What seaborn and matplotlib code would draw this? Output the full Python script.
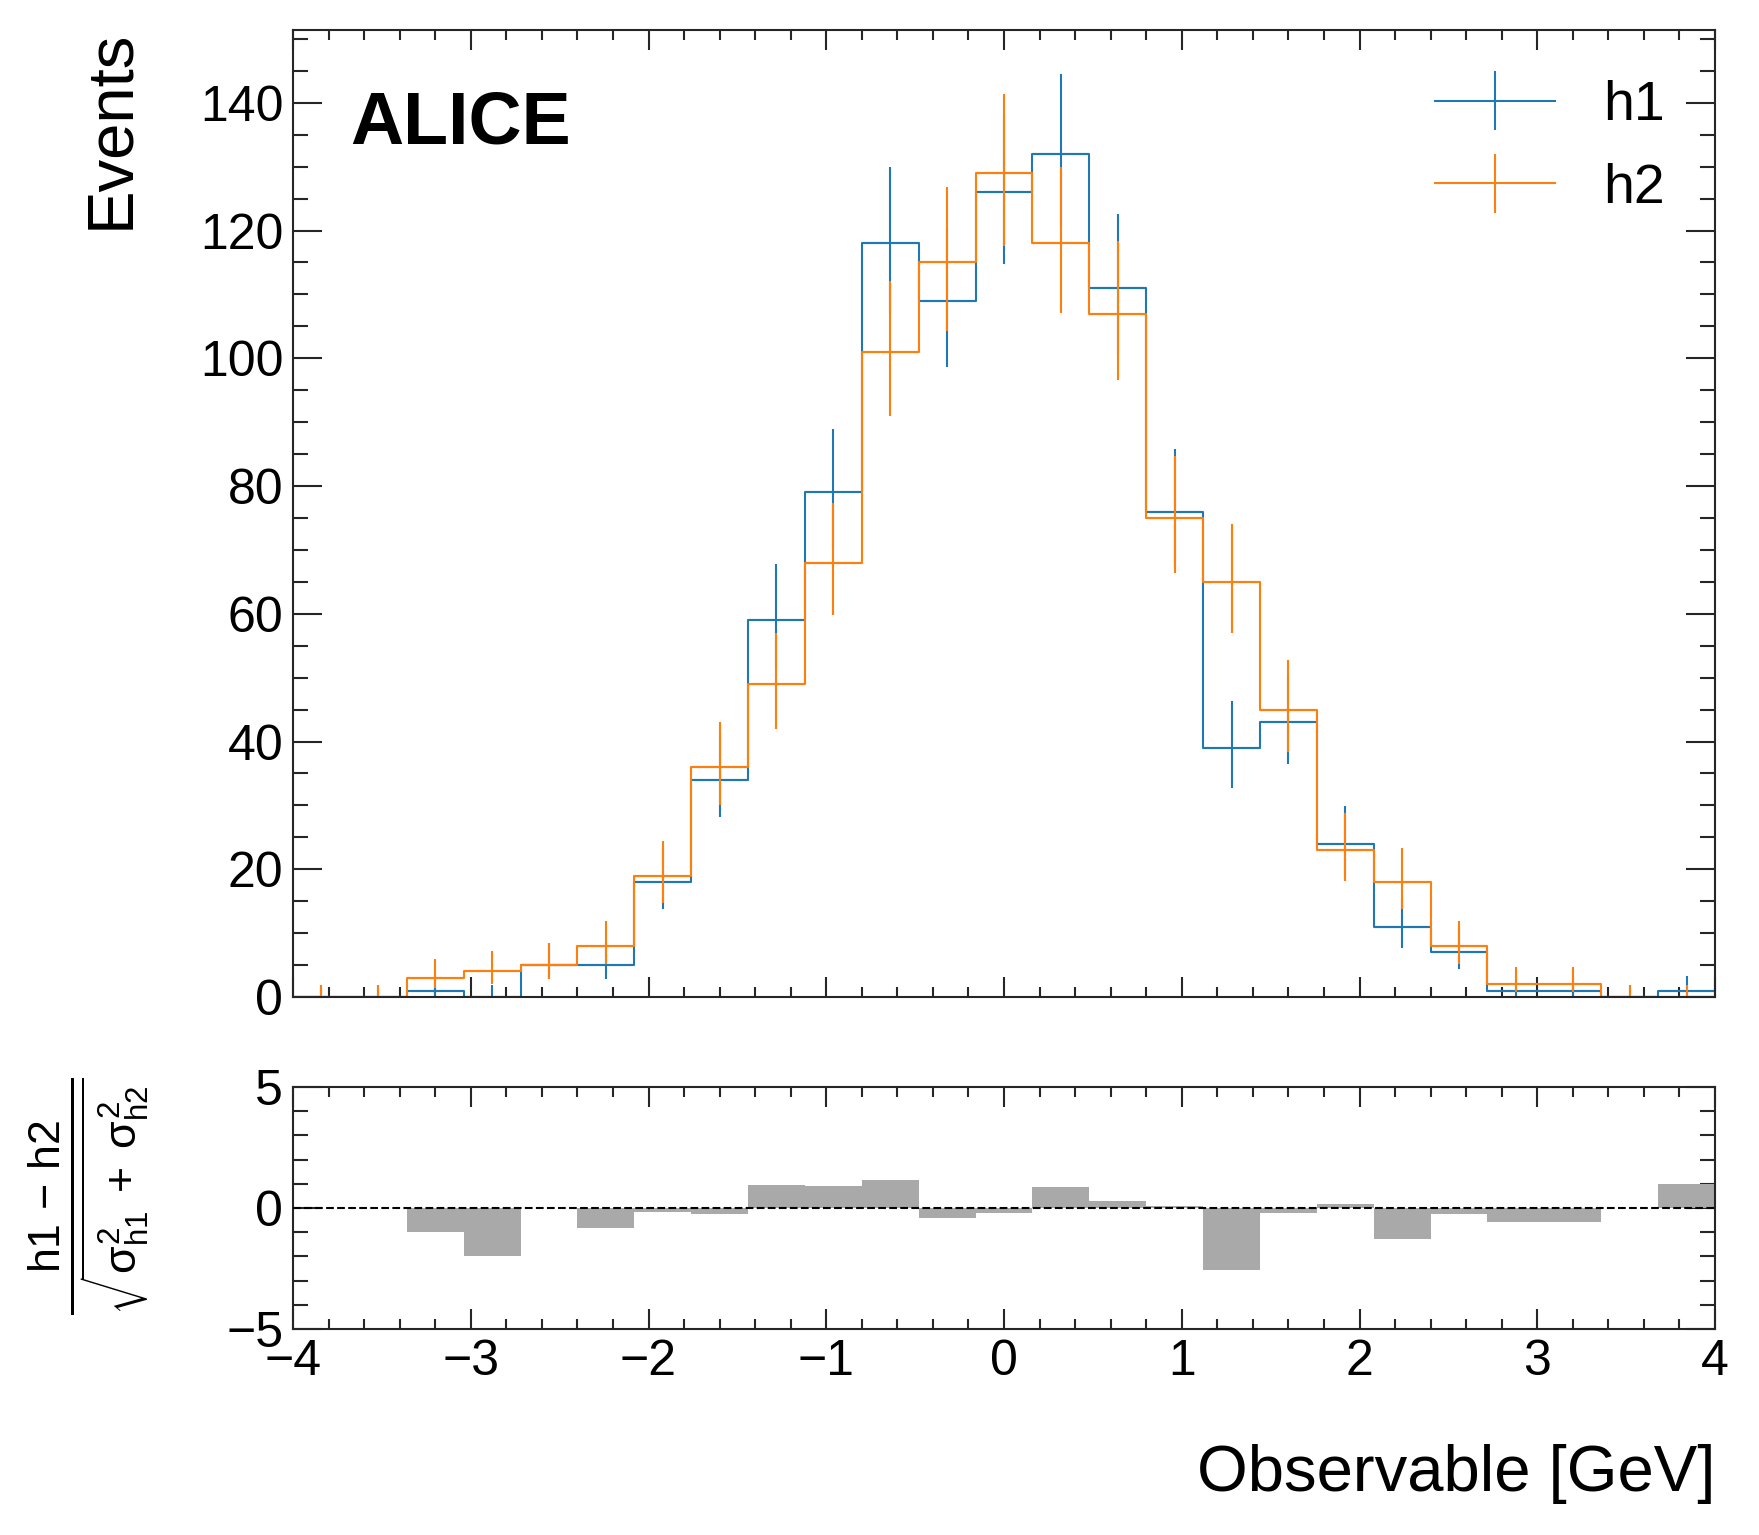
import numpy as np
import pandas as pd
import seaborn as sns
import matplotlib.pyplot as plt
from matplotlib.ticker import MultipleLocator
from matplotlib.container import ErrorbarContainer
from matplotlib.legend_handler import HandlerErrorbar

# binning: 25 bins on [-4, 4]
n_bins = 25
x_lo, x_hi = -4.0, 4.0

# bin contents
h1_counts = [0, 0, 1, 0, 5, 5, 18, 34, 59, 79, 118, 109, 126, 132, 111,
             76, 39, 43, 24, 11, 7, 1, 1, 0, 1]
h2_counts = [0, 0, 3, 4, 5, 8, 19, 36, 49, 68, 101, 115, 129, 118, 107,
             75, 65, 45, 23, 18, 8, 2, 2, 0, 0]
labels = ['h1', 'h2']
colors = ['#1f77b4', '#ff7f0e']

edges = np.linspace(x_lo, x_hi, n_bins + 1)
centers = 0.5 * (edges[1:] + edges[:-1])
half_width = 0.5 * (edges[1] - edges[0])

df = pd.DataFrame({'center': centers, 'h1': h1_counts, 'h2': h2_counts})


def poisson_interval(n):
    # Garwood 68% interval, like mplhep does for unweighted counts
    n = np.asarray(n, dtype=float)
    try:
        from scipy.stats import chi2
        lo = np.where(n > 0, chi2.ppf(0.158655, 2 * n) / 2, 0.0)
        hi = chi2.ppf(0.841345, 2 * (n + 1)) / 2
    except Exception:
        safe = np.where(n > 0, n, 1)
        lo = np.where(n > 0, safe * (1 - 1 / (9 * safe) - 1 / (3 * np.sqrt(safe))) ** 3, 0.0)
        hi = n + np.sqrt(n + 0.75) + 1
    lo = np.nan_to_num(lo)
    return n - lo, hi - n


# pull between the two histograms
diff = df['h1'] - df['h2']
sigma = np.sqrt(df['h1'] + df['h2'])
df['pull'] = np.where(sigma > 0, diff / sigma.replace(0, 1), 0.0)

sns.set_theme(style='ticks')
plt.rcParams['font.family'] = ['Liberation Sans', 'DejaVu Sans']
plt.rcParams['mathtext.fontset'] = 'custom'
plt.rcParams['mathtext.rm'] = 'Liberation Sans'
plt.rcParams['mathtext.it'] = 'Liberation Sans'
plt.rcParams['mathtext.bf'] = 'Liberation Sans:bold'
plt.rcParams['axes.linewidth'] = 1.5
plt.rcParams['axes.unicode_minus'] = True
plt.rcParams['text.color'] = 'black'
plt.rcParams['axes.labelcolor'] = 'black'

W, H = 1759, 1535
fig = plt.figure(figsize=(W / 100, H / 100), dpi=100)
ax = fig.add_axes([293 / W, 1 - 997 / H, 1422 / W, 967 / H])
rax = fig.add_axes([293 / W, 1 - 1329 / H, 1422 / W, 242 / H], sharex=ax)

# main panel
for name, col in zip(labels, colors):
    sns.histplot(data=df, x='center', weights=name, bins=n_bins,
                 binrange=(x_lo, x_hi), element='step', fill=False,
                 color=col, linewidth=1.5, ax=ax)
    lo, hi = poisson_interval(df[name])
    ax.errorbar(df['center'], df[name], yerr=[lo, hi], xerr=half_width,
                fmt='none', ecolor=col, elinewidth=1.5, capsize=0, label=name)

ax.set_xlim(x_lo, x_hi)
ax.set_ylim(0, 151.4)
ax.set_xlabel('')
ax.set_ylabel('Events', fontsize=47, loc='top')
ax.yaxis.set_label_coords(-0.107, 1.0)
ax.text(0.040, 0.883, 'ALICE', transform=ax.transAxes, fontsize=53,
        fontweight='bold', va='baseline', ha='left')
ax.legend(loc='upper right', frameon=False, fontsize=40, handlelength=2.2,
          handletextpad=0.85, labelspacing=0.55, borderaxespad=0.5,
          handler_map={ErrorbarContainer: HandlerErrorbar(xerr_size=1.1,
                                                          yerr_size=0.53)})

# pull panel
sns.histplot(data=df, x='center', weights='pull', bins=n_bins,
             binrange=(x_lo, x_hi), element='bars', fill=True,
             color='darkgray', alpha=1, linewidth=0, ax=rax)
rax.axhline(0, color='black', ls='--', lw=1.5, zorder=3)
rax.set_ylim(-5, 5)
rax.set_xlim(x_lo, x_hi)
rax.set_ylabel(r'$\frac{\mathrm{h1}\,-\,\mathrm{h2}}'
               r'{\sqrt{\sigma_{\mathrm{h1}}^{2}\;+\;\sigma_{\mathrm{h2}}^{2}}}$',
               fontsize=46)
rax.yaxis.set_label_coords(-0.099, 0.55)
rax.set_xlabel('Observable [GeV]', fontsize=47, loc='right')
rax.xaxis.set_label_coords(1.0, -0.475)

for a in (ax, rax):
    a.xaxis.set_major_locator(MultipleLocator(1))
    a.xaxis.set_minor_locator(MultipleLocator(0.2))
    a.tick_params(which='both', direction='in', top=True, right=True,
                  width=1.5, color='.15', labelcolor='black',
                  labelsize=36, pad=7)
    a.tick_params(axis='x', which='major', length=14.5)
    a.tick_params(axis='x', which='minor', length=7)
    a.tick_params(axis='y', which='major', length=21)
    a.tick_params(axis='y', which='minor', length=11)

ax.yaxis.set_major_locator(MultipleLocator(20))
ax.yaxis.set_minor_locator(MultipleLocator(5))
rax.yaxis.set_major_locator(MultipleLocator(5))
rax.yaxis.set_minor_locator(MultipleLocator(1))
ax.tick_params(labelbottom=False)

fig.savefig('out.png', dpi=100, facecolor='white')
